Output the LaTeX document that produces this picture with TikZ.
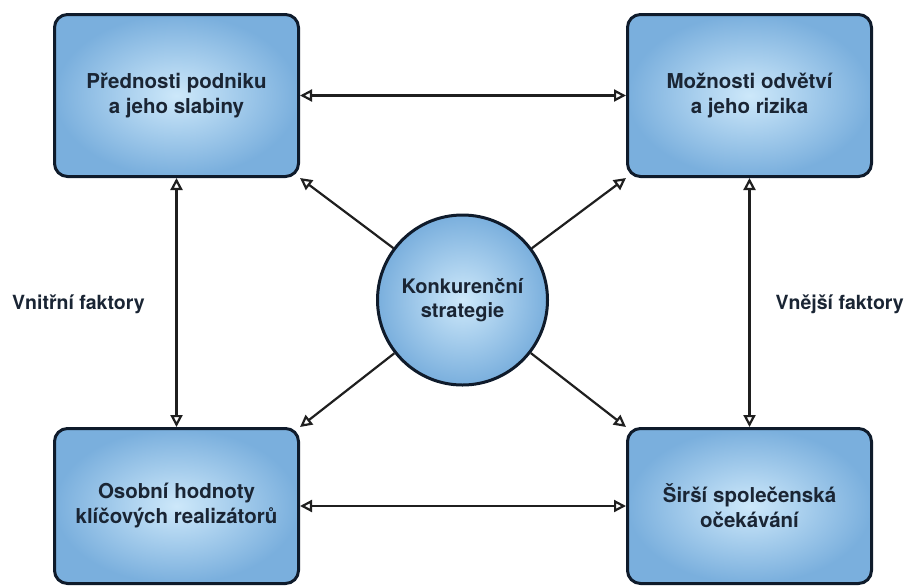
\documentclass[tikz,border=0pt]{standalone}
\usepackage{fontspec}
\setmainfont{TeX Gyre Heros}
\usetikzlibrary{arrows.meta,shadows}

\definecolor{boxline}{HTML}{0F1B2B}
\definecolor{boxin}{HTML}{CDE8FA}
\definecolor{boxout}{HTML}{7AAFDD}
\definecolor{txtcol}{HTML}{1A2534}
\definecolor{linkcol}{HTML}{1F1F1F}

\tikzset{
  opentip/.tip={Triangle[open,length=12pt,width=12pt]},
  factorbox/.style={rectangle,rounded corners=13pt,draw=boxline,line width=3pt,
    inner color=boxin,outer color=boxout,minimum width=244pt,align=center,
    text=txtcol,font=\fontsize{20.5}{25}\selectfont\bfseries,
    drop shadow={opacity=0.18,shadow xshift=-1pt,shadow yshift=-1pt}},
  corecircle/.style={circle,draw=boxline,line width=3pt,
    inner color=boxin,outer color=boxout,minimum size=170pt,align=center,
    text=txtcol,font=\fontsize{20}{24}\selectfont\bfseries,
    drop shadow={opacity=0.18,shadow xshift=-1pt,shadow yshift=-1pt}},
  sidelabel/.style={text=txtcol,font=\fontsize{19.5}{24}\selectfont\bfseries,inner sep=0pt},
  link/.style={draw=linkcol,line width=2.2pt,-opentip},
  twoway/.style={draw=linkcol,line width=2.2pt,opentip-opentip}
}

\begin{document}
\begin{tikzpicture}[x=1pt,y=-1pt]
  \useasboundingbox (0,0) rectangle (909,587);

  % the four boxes
  \node[factorbox,minimum height=162pt] (strengths) at (176.5,95.5) {Přednosti podniku\\a jeho slabiny};
  \node[factorbox,minimum height=162pt] (chances) at (749.5,95.5) {Možnosti odvětví\\a jeho rizika};
  \node[factorbox,minimum height=155pt] (values) at (176.5,506) {Osobní hodnoty\\klíčových realizátorů};
  \node[factorbox,minimum height=155pt] (society) at (749.5,506) {Širší společenská\\očekávání};

  % centre
  \node[corecircle] (strategy) at (462.5,300) {Konkurenční\\strategie};

  \draw[twoway] (strengths) -- (chances);
  \draw[twoway] (values) -- (society);
  \draw[twoway] (strengths) -- (values);
  \draw[twoway] (chances) -- (society);

  \draw[link] (strategy) -- (strengths.south east);
  \draw[link] (strategy) -- (chances.south west);
  \draw[link] (strategy) -- (values.north east);
  \draw[link] (strategy) -- (society.north west);

  \node[sidelabel,anchor=base west] (inner) at (12,309) {Vnitřní faktory};
  \node[sidelabel,anchor=base east] (outer) at (904,309) {Vnější faktory};
\end{tikzpicture}
\end{document}
